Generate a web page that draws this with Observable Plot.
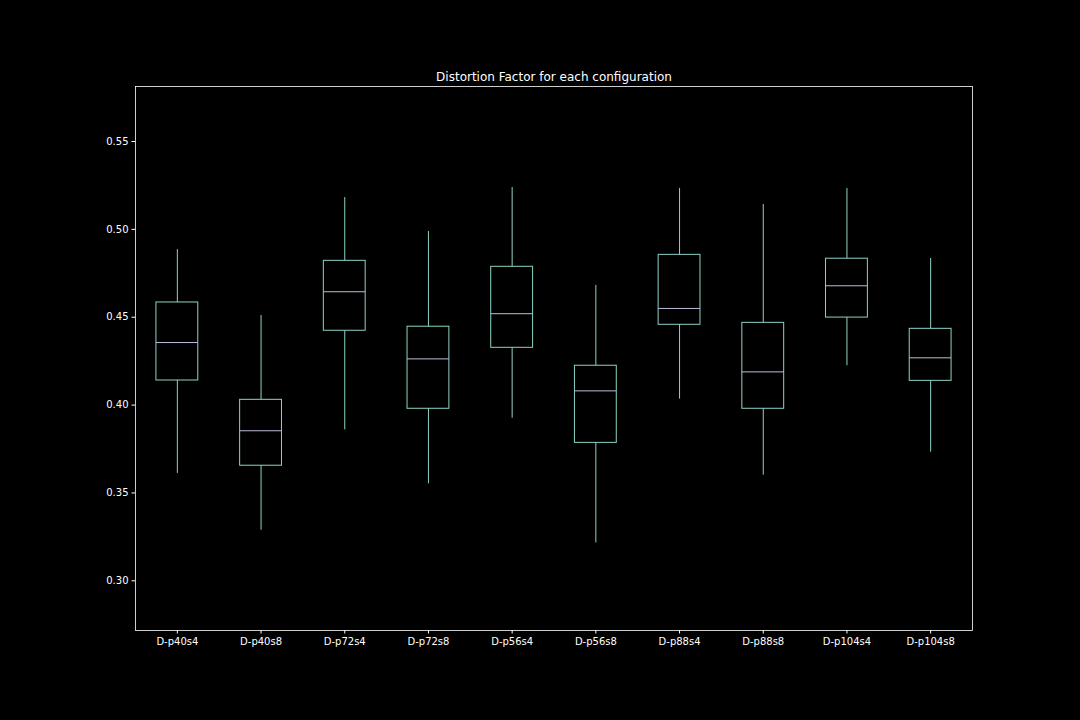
<!DOCTYPE html>
<html>
<head>
<meta charset="utf-8">
<script src="https://cdn.jsdelivr.net/npm/d3@7"></script>
<script src="https://cdn.jsdelivr.net/npm/@observablehq/plot@0.6"></script>
<style>
  html, body { margin: 0; padding: 0; background: #000; }
  #chart { width: 1080px; height: 720px; }
</style>
</head>
<body>
<div id="chart"></div>
<script>
const title = "Distortion Factor for each configuration";
const categories = ["D-p40s4","D-p40s8","D-p72s4","D-p72s8","D-p56s4","D-p56s8","D-p88s4","D-p88s8","D-p104s4","D-p104s8"];
const whiskerLow  = [0.3611, 0.3288, 0.3859, 0.3552, 0.3925, 0.3216, 0.4034, 0.3601, 0.4224, 0.3732];
const q1          = [0.4140, 0.3655, 0.4423, 0.3979, 0.4326, 0.3785, 0.4457, 0.3979, 0.4498, 0.4138];
const median      = [0.4356, 0.3854, 0.4645, 0.4263, 0.4520, 0.4081, 0.4550, 0.4189, 0.4679, 0.4269];
const q3          = [0.4584, 0.4030, 0.4821, 0.4446, 0.4787, 0.4224, 0.4855, 0.4468, 0.4833, 0.4434];
const whiskerHigh = [0.4885, 0.4510, 0.5181, 0.4988, 0.5238, 0.4681, 0.5233, 0.5142, 0.5233, 0.4834];
const yTicks = [0.30, 0.35, 0.40, 0.45, 0.50, 0.55];

const data = categories.map((c, i) => ({
  cat: c, lo: whiskerLow[i], q1: q1[i], med: median[i], q3: q3[i], hi: whiskerHigh[i]
}));

const boxColor = "#8dd3c7";
const medColor = "#bfbbd9";

const chart = Plot.plot({
  width: 1080,
  height: 720,
  marginLeft: 135,
  marginRight: 108,
  marginTop: 86,
  marginBottom: 90,
  style: { background: "#000", color: "#fff", fontFamily: "DejaVu Sans", fontSize: "10px" },
  x: { type: "band", domain: categories, paddingInner: 0.5, paddingOuter: 0.25, round: false, label: null },
  y: { domain: [0.27173, 0.58130], label: null },
  marks: [
    Plot.ruleX(data, { x: "cat", y1: "lo", y2: "q1", stroke: boxColor, strokeWidth: 1 }),
    Plot.ruleX(data, { x: "cat", y1: "q3", y2: "hi", stroke: boxColor, strokeWidth: 1 }),
    Plot.barY(data, { x: "cat", y1: "q1", y2: "q3", fill: "none", stroke: boxColor, strokeWidth: 1 }),
    Plot.tickY(data, { x: "cat", y: "med", stroke: medColor, strokeWidth: 1 }),
    Plot.axisY({ ticks: yTicks, tickFormat: d3.format(".2f"), tickSize: 3.5, tickPadding: 3.5, stroke: "#fff", fill: "#fff", fontSize: 10, label: null }),
    Plot.axisX({ tickSize: 3.5, tickPadding: 3.5, stroke: "#fff", fill: "#fff", fontSize: 10, label: null }),
    Plot.frame({ stroke: "#fff", strokeWidth: 0.8 }),
    Plot.text([title], { frameAnchor: "top", dy: -6, lineAnchor: "bottom", fontSize: 12, fill: "#fff" })
  ]
});
document.getElementById("chart").appendChild(chart);
</script>
</body>
</html>
